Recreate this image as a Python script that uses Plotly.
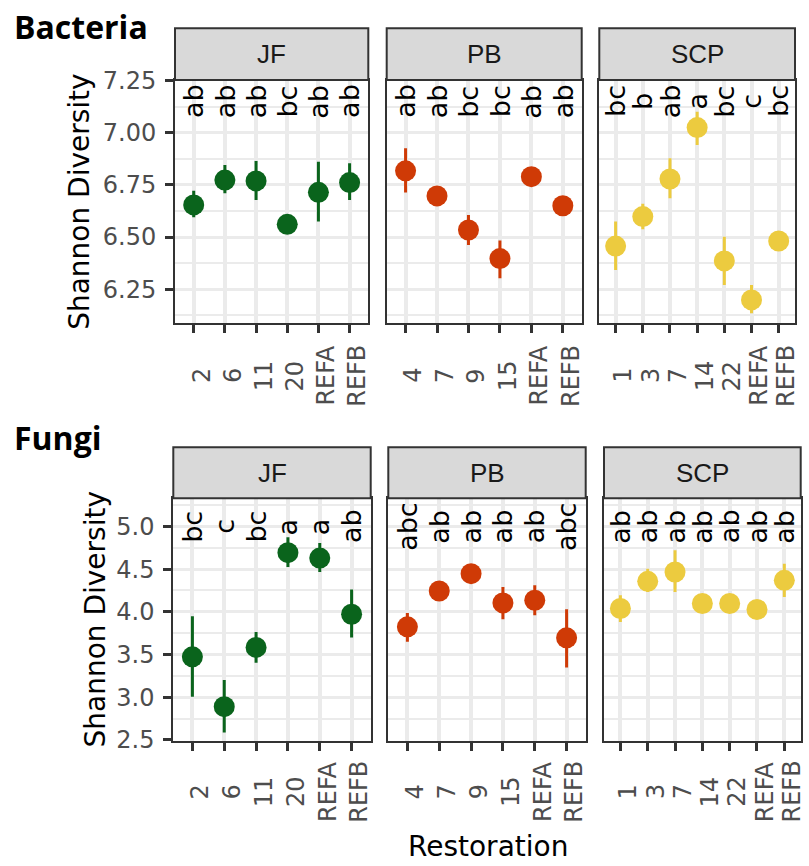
import plotly.graph_objects as go

# ---------------------------------------------------------------- data
sites = ["JF", "PB", "SCP"]
site_colors = ["#0A641C", "#CF3A06", "#ECCB3F"]

jf_levels = ["2", "6", "11", "20", "REFA", "REFB"]
pb_levels = ["4", "7", "9", "15", "REFA", "REFB"]
scp_levels = ["1", "3", "7", "14", "22", "REFA", "REFB"]

# Bacteria: mean Shannon diversity with lower / upper interval bounds
bac_jf_mean = [6.654, 6.773, 6.769, 6.561, 6.714, 6.761]
bac_jf_low = [6.595, 6.710, 6.678, 6.546, 6.574, 6.678]
bac_jf_high = [6.722, 6.845, 6.864, 6.576, 6.861, 6.853]
bac_jf_letters = ["ab", "ab", "ab", "bc", "ab", "ab"]

bac_pb_mean = [6.817, 6.697, 6.534, 6.397, 6.789, 6.650]
bac_pb_low = [6.713, 6.682, 6.462, 6.303, 6.774, 6.635]
bac_pb_high = [6.925, 6.712, 6.606, 6.483, 6.804, 6.665]
bac_pb_letters = ["ab", "ab", "bc", "bc", "ab", "ab"]

bac_scp_mean = [6.457, 6.598, 6.778, 7.024, 6.386, 6.199, 6.481]
bac_scp_low = [6.342, 6.537, 6.686, 6.941, 6.271, 6.135, 6.466]
bac_scp_high = [6.574, 6.659, 6.877, 7.100, 6.502, 6.271, 6.496]
bac_scp_letters = ["bc", "b", "ab", "a", "bc", "c", "bc"]

# Fungi
fun_jf_mean = [3.473, 2.889, 3.583, 4.693, 4.630, 3.972]
fun_jf_low = [3.006, 2.585, 3.403, 4.525, 4.466, 3.700]
fun_jf_high = [3.949, 3.201, 3.765, 4.875, 4.805, 4.261]
fun_jf_letters = ["bc", "c", "bc", "a", "a", "ab"]

fun_pb_mean = [3.824, 4.244, 4.447, 4.104, 4.136, 3.695]
fun_pb_low = [3.648, 4.200, 4.400, 3.914, 3.960, 3.349]
fun_pb_high = [3.987, 4.290, 4.490, 4.291, 4.311, 4.030]
fun_pb_letters = ["abc", "ab", "ab", "ab", "ab", "abc"]

fun_scp_mean = [4.039, 4.357, 4.466, 4.097, 4.097, 4.027, 4.369]
fun_scp_low = [3.882, 4.232, 4.232, 4.050, 4.050, 3.980, 4.174]
fun_scp_high = [4.194, 4.506, 4.720, 4.140, 4.140, 4.070, 4.564]
fun_scp_letters = ["ab", "ab", "ab", "ab", "ab", "ab", "ab"]

row_titles = ["Bacteria", "Fungi"]
y_title = "Shannon Diversity"
x_title = "Restoration"

# ---------------------------------------------------------------- layout
W, H = 809, 866


def fx(px):
    return px / W


def fy(py):
    return 1 - py / H


panel_x = [
    [(175.0, 368.3), (386.7, 581.7), (599.3, 795.0)],
    [(173.3, 370.7), (388.3, 585.7), (604.0, 800.7)],
]
# panel top, panel bottom, strip top (pixels)
panel_y = [(80.0, 322.7, 28.3), (498.3, 740.7, 447.3)]
y_ranges = [[6.09, 7.252], [2.49, 5.33]]
y_tick0 = [6.25, 2.5]
y_dtick = [0.25, 0.5]
y_fmt = [".2f", ".1f"]
letter_y = [7.15, 5.0]

rows = [
    [
        (jf_levels, bac_jf_mean, bac_jf_low, bac_jf_high, bac_jf_letters),
        (pb_levels, bac_pb_mean, bac_pb_low, bac_pb_high, bac_pb_letters),
        (scp_levels, bac_scp_mean, bac_scp_low, bac_scp_high, bac_scp_letters),
    ],
    [
        (jf_levels, fun_jf_mean, fun_jf_low, fun_jf_high, fun_jf_letters),
        (pb_levels, fun_pb_mean, fun_pb_low, fun_pb_high, fun_pb_letters),
        (scp_levels, fun_scp_mean, fun_scp_low, fun_scp_high, fun_scp_letters),
    ],
]

TXT = "DejaVu Sans"
GRID = "#EBEBEB"
BORDER = "#333333"

fig = go.Figure()
layout = {}
shapes = []
annotations = []

for r, row in enumerate(rows):
    top, bottom, strip_top = panel_y[r]
    for c, (levels, mean, low, high, letters) in enumerate(row):
        k = r * 3 + c + 1
        xa = "x" if k == 1 else f"x{k}"
        ya = "y" if k == 1 else f"y{k}"
        x0, x1 = panel_x[r][c]
        col = site_colors[c]

        fig.add_trace(go.Scatter(
            x=levels, y=mean, xaxis=xa, yaxis=ya, mode="markers",
            marker=dict(size=21, color=col, line=dict(width=0)),
            error_y=dict(type="data", symmetric=False,
                         array=[h - m for h, m in zip(high, mean)],
                         arrayminus=[m - l for m, l in zip(mean, low)],
                         thickness=3, width=0, color=col),
            hoverinfo="skip", showlegend=False,
        ))

        n = len(levels)
        layout["xaxis" if k == 1 else f"xaxis{k}"] = dict(
            domain=[fx(x0), fx(x1)], anchor=ya, type="category",
            categoryorder="array", categoryarray=levels,
            range=[-0.6, n - 0.4], showgrid=True, gridcolor=GRID, gridwidth=3.5,
            showline=True, linecolor=BORDER, linewidth=2, mirror=True,
            ticks="outside", ticklen=8, tickwidth=3, tickcolor=BORDER,
            showticklabels=False, zeroline=False, fixedrange=True,
            automargin=False,
        )
        layout["yaxis" if k == 1 else f"yaxis{k}"] = dict(
            domain=[fy(bottom), fy(top)], anchor=xa, range=y_ranges[r],
            tick0=y_tick0[r], dtick=y_dtick[r], tickformat=y_fmt[r],
            showgrid=True, gridcolor=GRID, gridwidth=3,
            minor=dict(tick0=y_tick0[r], dtick=y_dtick[r] / 2, showgrid=True,
                       gridcolor=GRID, gridwidth=1.5),
            showline=True, linecolor=BORDER, linewidth=2, mirror=True,
            ticks="outside" if c == 0 else "", ticklen=8, tickwidth=3,
            tickcolor=BORDER, showticklabels=(c == 0),
            tickfont=dict(family=TXT, size=24, color="#4D4D4D"),
            ticklabelstandoff=4,
            zeroline=False, fixedrange=True, automargin=False,
        )

        # facet strip
        shapes.append(dict(
            type="rect", xref="paper", yref="paper",
            x0=fx(x0), x1=fx(x1), y0=fy(top), y1=fy(strip_top),
            fillcolor="#D9D9D9", line=dict(color=BORDER, width=2), layer="above",
        ))
        annotations.append(dict(
            text=sites[c], xref="paper", yref="paper",
            x=fx((x0 + x1) / 2), y=fy((top + strip_top) / 2),
            xanchor="center", yanchor="middle", showarrow=False,
            font=dict(family="Liberation Sans", size=26, color="#1A1A1A"),
        ))

        for i, (lev, lab) in enumerate(zip(levels, letters)):
            # significance letters above each group
            annotations.append(dict(
                text=lab, x=i, y=letter_y[r], xref=xa, yref=ya,
                textangle=-90, xanchor="center", yanchor="middle",
                showarrow=False, font=dict(family=TXT, size=27, color="black"),
            ))
            # rotated category labels under each panel
            annotations.append(dict(
                text=lev, x=i, y=0, xref=xa, yref=f"{ya} domain",
                textangle=-90, xanchor="center", yanchor="middle",
                xshift=7.5, yshift=-53 if r == 0 else -51,
                showarrow=False, font=dict(family=TXT, size=24, color="#4D4D4D"),
            ))

    # row title and y axis title
    annotations.append(dict(
        text=f"<b>{row_titles[r]}</b>", xref="paper", yref="paper",
        x=fx(12), y=fy(26 if r == 0 else 437), xanchor="left", yanchor="middle",
        showarrow=False, font=dict(family="Open Sans", size=32, color="black"),
    ))
    annotations.append(dict(
        text=y_title, xref="paper", yref="paper", textangle=-90,
        x=fx(79.5 if r == 0 else 95), y=fy((top + bottom) / 2),
        xanchor="center", yanchor="middle", showarrow=False,
        font=dict(family=TXT, size=28, color="black"),
    ))

annotations.append(dict(
    text=x_title, xref="paper", yref="paper",
    x=fx(488), y=fy(846), xanchor="center", yanchor="middle",
    showarrow=False, font=dict(family=TXT, size=28, color="black"),
))

fig.update_layout(
    template="none",
    width=W, height=H, margin=dict(l=0, r=0, t=0, b=0, autoexpand=False),
    paper_bgcolor="white", plot_bgcolor="white", showlegend=False,
    shapes=shapes, annotations=annotations, **layout,
)

fig.write_html("out.html", config={"displayModeBar": False})
